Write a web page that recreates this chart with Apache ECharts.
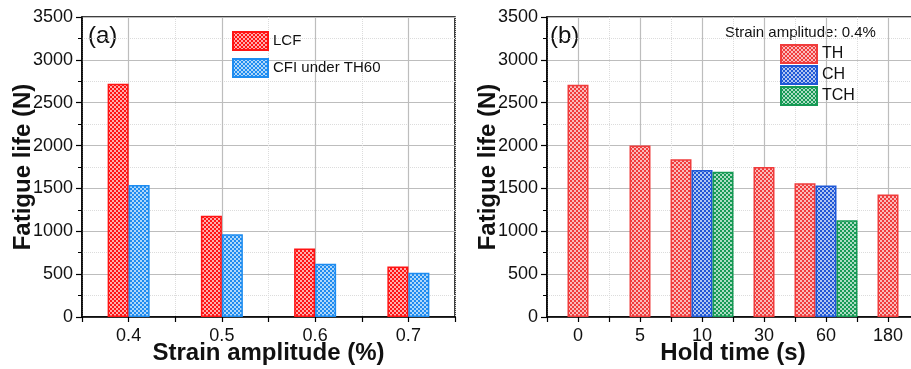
<!DOCTYPE html>
<html>
<head>
<meta charset="utf-8">
<script src="https://cdn.jsdelivr.net/npm/echarts@6/dist/echarts.min.js"></script>
<style>
  html, body { margin: 0; padding: 0; background: #fff; }
  #chart { width: 911px; height: 369px; }
</style>
</head>
<body>
<div id="chart"></div>
<script>
// panel (a)
const strainAmps = ['0.4', '0.5', '0.6', '0.7'];
const lcfLife = [2720, 1180, 800, 590];
const cfiLife = [1540, 965, 620, 515];

// panel (b)
const holdTimes = ['0', '5', '10', '30', '60', '180'];
const thLife = [2710, 2000, 1840, 1750, 1560, 1430];
const chLife = [null, null, 1715, null, 1535, null];
const tchLife = [null, null, 1695, null, 1130, null];

const yTicks = [0, 500, 1000, 1500, 2000, 2500, 3000, 3500];

const FONT = 'Liberation Sans, Arial, sans-serif';

// checkered fill like the origin hatch
function hatch(color) {
  const c = document.createElement('canvas');
  c.width = 4;
  c.height = 4;
  const g = c.getContext('2d');
  g.fillStyle = color;
  g.fillRect(0, 0, 4, 4);
  g.fillStyle = 'rgba(255,255,255,0.65)';
  g.fillRect(0, 0, 2, 2);
  g.fillRect(2, 2, 2, 2);
  return { image: c, repeat: 'repeat' };
}

function barStyle(color) {
  return { color: hatch(color), borderColor: color, borderWidth: 1.5 };
}

// single-bar categories are centred, grouped ones sit side by side
const grouped = holdTimes.map((_, i) => chLife[i] != null || tchLife[i] != null);
const thSingle = thLife.map((v, i) => (grouped[i] ? null : v));
const thGroup = thLife.map((v, i) => (grouped[i] ? v : null));

function yAxis(gridIndex) {
  return {
    type: 'value',
    gridIndex,
    min: yTicks[0],
    max: yTicks[yTicks.length - 1],
    interval: 500,
    name: 'Fatigue life (N)',
    nameLocation: 'middle',
    nameMoveOverlap: false,
    nameGap: 47,
    nameTextStyle: { fontFamily: FONT, fontSize: 24, fontWeight: 'bold', color: '#111' },
    axisLine: { show: true, lineStyle: { color: '#000', width: 1.5 } },
    axisTick: { show: true, length: 6, lineStyle: { color: '#000', width: 1.2 } },
    minorTick: { show: true, splitNumber: 2, length: 4, lineStyle: { color: '#000' } },
    axisLabel: { fontFamily: FONT, fontSize: 18, color: '#111', margin: 9, formatter: v => String(v) },
    splitLine: { show: true, lineStyle: { color: '#bdbdbd', width: 1.2 } },
    minorSplitLine: { show: true, lineStyle: { color: '#dcdcdc', type: 'dotted', width: 1 } }
  };
}

function xAxisMain(gridIndex, cats, name) {
  return {
    type: 'category',
    gridIndex,
    position: 'bottom',
    data: cats,
    name,
    nameLocation: 'middle',
    nameMoveOverlap: false,
    nameGap: 24,
    nameTextStyle: { fontFamily: FONT, fontSize: 24, fontWeight: 'bold', color: '#111' },
    axisLine: { show: true, lineStyle: { color: '#000', width: 1.5 } },
    axisTick: { show: true, length: 5, lineStyle: { color: '#000', width: 1.2 } },
    axisLabel: { fontFamily: FONT, fontSize: 18, color: '#111', margin: 10 },
    splitLine: { show: true, lineStyle: { color: '#dcdcdc', type: 'dotted', width: 1 } }
  };
}

function xAxisCentre(gridIndex, cats) {
  return {
    type: 'category',
    gridIndex,
    position: 'bottom',
    data: cats,
    axisLine: { show: false },
    axisTick: { show: true, alignWithLabel: true, length: 5, lineStyle: { color: '#000', width: 1.2 } },
    axisLabel: { show: false },
    splitLine: { show: true, alignWithLabel: true, lineStyle: { color: '#bdbdbd', width: 1.2 } }
  };
}

const chart = echarts.init(document.getElementById('chart'));

chart.setOption({
  animation: false,
  grid: [
    { left: 82, top: 17, width: 373, height: 300, outerBoundsMode: 'none', show: true, borderColor: '#000', borderWidth: 1.5 },
    { left: 547, top: 17, width: 372, height: 300, outerBoundsMode: 'none', show: true, borderColor: '#000', borderWidth: 1.5 }
  ],
  xAxis: [
    xAxisMain(0, strainAmps, 'Strain amplitude (%)'),
    xAxisCentre(0, strainAmps),
    xAxisMain(1, holdTimes, 'Hold time (s)'),
    xAxisCentre(1, holdTimes)
  ],
  yAxis: [yAxis(0), yAxis(1)],
  legend: [
    {
      left: 232,
      top: 31,
      padding: 0,
      orient: 'vertical',
      icon: 'rect',
      itemWidth: 35,
      itemHeight: 18,
      itemGap: 7,
      itemTextGap: 5,
      data: ['LCF', 'CFI under TH60'],
      textStyle: { fontFamily: FONT, fontSize: 15, color: '#111' }
    },
    {
      left: 780,
      top: 44,
      padding: 0,
      orient: 'vertical',
      icon: 'rect',
      itemWidth: 36,
      itemHeight: 18,
      itemGap: 1,
      itemTextGap: 4,
      data: ['TH', 'CH', 'TCH'],
      textStyle: { fontFamily: FONT, fontSize: 16, color: '#111' }
    }
  ],
  graphic: [
    { type: 'text', left: 88, top: 24, style: { text: '(a)', font: '24px ' + FONT, fill: '#111' } },
    { type: 'text', left: 550, top: 24, style: { text: '(b)', font: '24px ' + FONT, fill: '#111' } },
    { type: 'text', left: 725, top: 25, style: { text: 'Strain amplitude: 0.4%', font: '15px ' + FONT, fill: '#111' } }
  ],
  series: [
    { name: 'LCF', type: 'bar', xAxisIndex: 0, yAxisIndex: 0, data: lcfLife, barWidth: 21, barGap: '0%', itemStyle: barStyle('#ff1414') },
    { name: 'CFI under TH60', type: 'bar', xAxisIndex: 0, yAxisIndex: 0, data: cfiLife, barWidth: 21, barGap: '0%', itemStyle: barStyle('#1e8cf0') },
    { name: 'TH', type: 'bar', xAxisIndex: 2, yAxisIndex: 1, data: thSingle, barWidth: 21, itemStyle: barStyle('#f03c3c') },
    { name: 'TH', type: 'bar', xAxisIndex: 3, yAxisIndex: 1, data: thGroup, barWidth: 21, barGap: '0%', itemStyle: barStyle('#f03c3c') },
    { name: 'CH', type: 'bar', xAxisIndex: 3, yAxisIndex: 1, data: chLife, barWidth: 21, barGap: '0%', itemStyle: barStyle('#1f58d6') },
    { name: 'TCH', type: 'bar', xAxisIndex: 3, yAxisIndex: 1, data: tchLife, barWidth: 21, barGap: '0%', itemStyle: barStyle('#169a55') }
  ]
});
</script>
</body>
</html>
